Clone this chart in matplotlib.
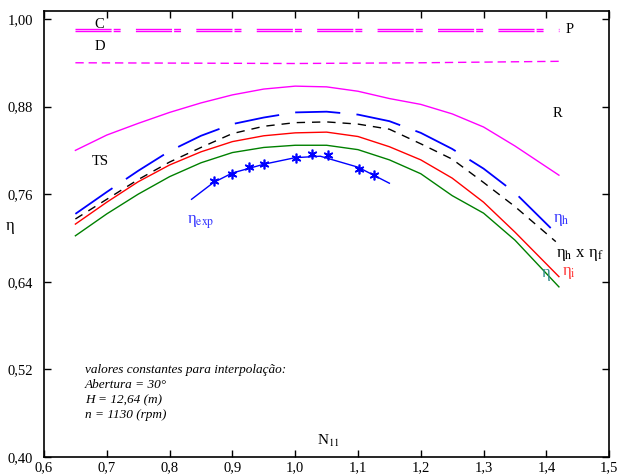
"""Efficiency curves vs N11 (hill chart interpolation, opening 30 deg)."""
import matplotlib
matplotlib.use("Agg")
import matplotlib.pyplot as plt

plt.rcParams["font.family"] = ["Liberation Serif", "DejaVu Serif"]
plt.rcParams["mathtext.fontset"] = "stix"

# --- data ------------------------------------------------------------------
N11 = [0.65, 0.70, 0.75, 0.80, 0.85, 0.90, 0.95, 1.00, 1.05, 1.10, 1.15,
       1.20, 1.25, 1.30, 1.35, 1.42]
eta_R = [0.820, 0.841, 0.857, 0.872, 0.885, 0.896, 0.904, 0.908, 0.907,
         0.901, 0.891, 0.883, 0.870, 0.852, 0.826, 0.786]
eta_i = [0.719, 0.749, 0.777, 0.800, 0.818, 0.832, 0.840, 0.844, 0.845,
         0.839, 0.825, 0.807, 0.782, 0.749, 0.708, 0.647]
eta = [0.703, 0.733, 0.760, 0.784, 0.803, 0.817, 0.824, 0.827, 0.827,
       0.821, 0.807, 0.788, 0.758, 0.734, 0.697, 0.633]

N11_hf = [0.65, 0.70, 0.75, 0.80, 0.85, 0.90, 0.95, 1.00, 1.05, 1.10, 1.15,
          1.20, 1.25, 1.30, 1.35, 1.415]
eta_hf = [0.726, 0.753, 0.780, 0.804, 0.824, 0.843, 0.853, 0.858, 0.859,
          0.856, 0.849, 0.829, 0.808, 0.776, 0.743, 0.695]

N11_h = [0.65, 0.70, 0.75, 0.80, 0.85, 0.90, 0.95, 1.00, 1.05, 1.10, 1.15,
         1.20, 1.25, 1.30, 1.35, 1.41]
eta_h = [0.733, 0.763, 0.792, 0.819, 0.840, 0.856, 0.865, 0.872, 0.873,
         0.869, 0.860, 0.844, 0.822, 0.795, 0.762, 0.711]

N11_C = [0.65, 1.42]
eta_C = [0.9855, 0.9855]
N11_D = [0.65, 1.00, 1.20, 1.42]
eta_D = [0.940, 0.939, 0.940, 0.942]

N11_fit = [0.835, 0.87, 0.90, 0.95, 1.00, 1.04, 1.10, 1.15]
eta_fit = [0.753, 0.776, 0.789, 0.801, 0.810, 0.812, 0.797, 0.775]
N11_exp = [0.870, 0.900, 0.926, 0.950, 1.002, 1.026, 1.052, 1.101, 1.126]
eta_exp = [0.778, 0.788, 0.797, 0.801, 0.810, 0.815, 0.814, 0.795, 0.786]

xticks = [0.6, 0.7, 0.8, 0.9, 1.0, 1.1, 1.2, 1.3, 1.4, 1.5]
xlabels = ["0,6", "0,7", "0,8", "0,9", "1,0", "1,1", "1,2", "1,3", "1,4", "1,5"]
yticks = [0.40, 0.52, 0.64, 0.76, 0.88, 1.00]
ylabels = ["0,40", "0,52", "0,64", "0,76", "0,88", "1,00"]

MAG = "#ff00ff"
BLUE = "#0000ff"
RED = "#ff0000"
GREEN = "#008000"

fig = plt.figure(figsize=(6.17, 4.76), dpi=100)
ax = fig.add_axes([0.0713, 0.040, 0.916, 0.937])

# C: double dash-dot magenta line
for dy in (0.0013, -0.0013):
    ax.plot(N11_C, [v + dy for v in eta_C], color=MAG, lw=1.0,
            dashes=(26, 1.5, 5, 11))
ax.plot(N11_D, eta_D, color=MAG, lw=1.0, dashes=(6, 3.5))
ax.plot(N11, eta_R, color=MAG, lw=1.0)
ax.plot(N11_h, eta_h, color=BLUE, lw=1.3, dashes=(25, 9))
ax.plot(N11_hf, eta_hf, color="black", lw=1.0, dashes=(6, 5))
ax.plot(N11, eta_i, color=RED, lw=1.0)
ax.plot(N11, eta, color=GREEN, lw=1.0)
ax.plot(N11_fit, eta_fit, color=BLUE, lw=1.0)
ax.plot(N11_exp, eta_exp, ls="none", marker=(6, 2, 0), ms=7, mew=1.2,
        color=BLUE)

ax.set_xlim(0.6, 1.5)
ax.set_ylim(0.40, 1.011)
ax.set_xticks(xticks)
ax.set_xticklabels(xlabels)
ax.set_yticks(yticks)
ax.set_yticklabels(ylabels)
ax.tick_params(direction="in", length=5, width=1.0, labelsize=10.5,
               top=True, right=True)
ax.tick_params(axis="x", pad=3)
ax.tick_params(axis="y", pad=8)
for s in ax.spines.values():
    s.set_linewidth(1.2)

ax.set_ylabel("η", rotation=0, fontsize=12, va="center", ha="center")
ax.yaxis.set_label_coords(-0.060, 0.518)

# curve labels
ax.text(0.68, 0.993, "C", fontsize=10.5, va="center")
ax.text(0.68, 0.962, "D", fontsize=10.5, va="center")
ax.text(1.43, 0.986, "P", fontsize=10.5, va="center")
ax.text(1.41, 0.871, "R", fontsize=10.5, va="center")
ax.text(0.676, 0.805, "TS", fontsize=10.5, va="center")
ax.text(0.827, 0.722, "η$_{\\mathrm{exp}}$", fontsize=12, color="#3333ff",
        va="center")
ax.text(1.41, 0.725, "η$_{\\mathrm{h}}$", fontsize=12, color="#3333ff",
        va="center")
ax.text(1.415, 0.677, "η$_{\\mathrm{h}}$ x η$_{\\mathrm{f}}$", fontsize=12,
        va="center")
ax.text(1.425, 0.652, "η$_{\\mathrm{i}}$", fontsize=12, color="#ff3333",
        va="center")
ax.text(1.393, 0.652, "η", fontsize=12, color="#2e8b8b", va="center")
ax.text(1.034, 0.422, "N$_{\\mathrm{11}}$", fontsize=11, va="center")

ax.text(0.665, 0.527, "valores constantes para interpolação:\n"
        "Abertura = 30°\nH = 12,64 (m)\nn = 1130 (rpm)",
        fontsize=9.5, style="italic", va="top", linespacing=1.33)

fig.savefig("out.png", dpi=100)
